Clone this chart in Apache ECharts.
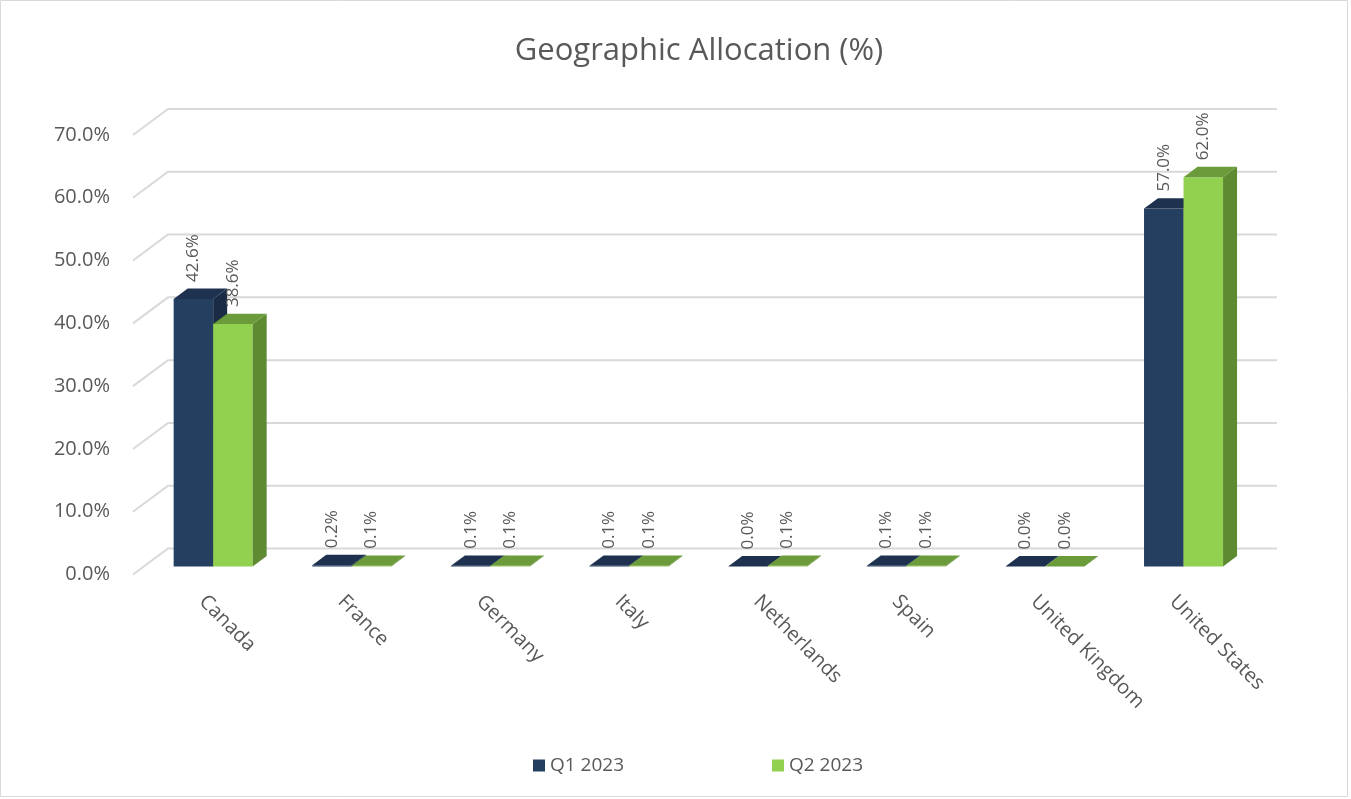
<!DOCTYPE html>
<html>
<head>
<meta charset="utf-8">
<script src="https://cdn.jsdelivr.net/npm/echarts@6/dist/echarts.min.js"></script>
<style>
html,body{margin:0;padding:0;background:#fff;}
#chart{width:1351px;height:799px;}
</style>
</head>
<body>
<div id="chart"></div>
<script>
const categories = ['Canada','France','Germany','Italy','Netherlands','Spain','United Kingdom','United States'];
const q1Values = [42.6, 0.2, 0.1, 0.1, 0.0, 0.1, 0.0, 57.0];
const q2Values = [38.6, 0.1, 0.1, 0.1, 0.1, 0.1, 0.0, 62.0];
const seriesNames = ['Q1 2023', 'Q2 2023'];
const yTicks = [0, 10, 20, 30, 40, 50, 60, 70];

// 3D look (pixels)
const DEPTH_X = 35, DEPTH_Y = -26;      // floor depth
const FRONT_F = 0.31, BACK_F = 0.71;    // bar position within depth
const BAR_FRAC = 0.285;                 // bar width as fraction of category
const TXT = '#595959';
const FONT = 'Open Sans';

const palettes = [
  {front:'#243f60', top:'#1e3250', side:'#1a2c45', legend:'#243f60'},
  {front:'#92d050', top:'#6b9b3a', side:'#5e8a31', legend:'#92d050'}
];

function barSeries(idx, values) {
  const pal = palettes[idx];
  return {
    type: 'custom',
    name: seriesNames[idx],
    itemStyle: {color: pal.legend},
    z: 5 + idx,
    data: values.map((v, i) => [i, v]),
    renderItem: function (params, api) {
      const i = api.value(0), v = api.value(1);
      const top = api.coord([i, v]);
      const base = api.coord([i, 0]);
      const catW = api.size([1, 0])[0];
      const bw = catW * BAR_FRAC;
      const fx = DEPTH_X * FRONT_F, fy = DEPTH_Y * FRONT_F;
      const dx = DEPTH_X * (BACK_F - FRONT_F), dy = DEPTH_Y * (BACK_F - FRONT_F);
      const x0 = top[0] + fx + (idx === 0 ? -bw : 0);
      const x1 = x0 + bw;
      const yT = top[1] + fy, yB = base[1] + fy;
      return {
        type: 'group',
        children: [
          {type: 'rect', shape: {x: x0, y: yT, width: bw, height: yB - yT}, style: {fill: pal.front}},
          {type: 'polygon', shape: {points: [[x1, yT], [x1 + dx, yT + dy], [x1 + dx, yB + dy], [x1, yB]]}, style: {fill: pal.side}},
          {type: 'polygon', shape: {points: [[x0, yT], [x1, yT], [x1 + dx, yT + dy], [x0 + dx, yT + dy]]}, style: {fill: pal.top}},
          {type: 'text', x: x0 + bw / 2, y: yT - 17, rotation: Math.PI / 2,
           style: {text: v.toFixed(1) + '%', fill: TXT, fontSize: 17, fontFamily: FONT, align: 'left', verticalAlign: 'middle'}}
        ]
      };
    }
  };
}

const gridSeries = {
  type: 'custom',
  name: 'grid',
  silent: true,
  z: 1,
  data: yTicks.map(t => [0, t]),
  renderItem: function (params, api) {
    const p = api.coord([0, api.value(1)]);
    const left = params.coordSys.x;
    const right = left + params.coordSys.width;
    return {
      type: 'polyline',
      shape: {points: [[left, p[1]], [left + DEPTH_X, p[1] + DEPTH_Y], [right + DEPTH_X, p[1] + DEPTH_Y]]},
      style: {stroke: '#d9d9d9', lineWidth: 2, fill: null}
    };
  }
};

const chart = echarts.init(document.getElementById('chart'));
chart.setOption({
  backgroundColor: '#fff',
  animation: false,
  graphic: [
    {type: 'rect', shape: {x: 0.5, y: 0.5, width: 1347, height: 796}, style: {fill: null, stroke: '#d9d9d9', lineWidth: 1}, silent: true},
    {type: 'text', x: 699, y: 51, style: {text: 'Geographic Allocation (%)', fill: TXT, fontSize: 31, fontFamily: FONT, align: 'center', verticalAlign: 'middle'}}
  ],
  legend: {
    data: seriesNames,
    left: 528, top: 751,
    icon: 'rect', itemWidth: 12, itemHeight: 12, itemGap: 148,
    textStyle: {color: TXT, fontSize: 19, fontFamily: FONT}
  },
  grid: {left: 133, right: 109, top: 135, bottom: 224.5},
  xAxis: {
    type: 'category',
    data: categories,
    axisLine: {show: false}, axisTick: {show: false}, splitLine: {show: false},
    axisLabel: {rotate: -45, margin: 24, color: TXT, fontSize: 20, fontFamily: FONT, interval: 0}
  },
  yAxis: {
    type: 'value', min: 0, max: 70, interval: 10,
    axisLine: {show: false}, axisTick: {show: false}, splitLine: {show: false},
    axisLabel: {margin: 23, color: TXT, fontSize: 20, fontFamily: FONT, formatter: v => v.toFixed(1) + '%'}
  },
  series: [gridSeries, barSeries(0, q1Values), barSeries(1, q2Values)]
});
</script>
</body>
</html>
